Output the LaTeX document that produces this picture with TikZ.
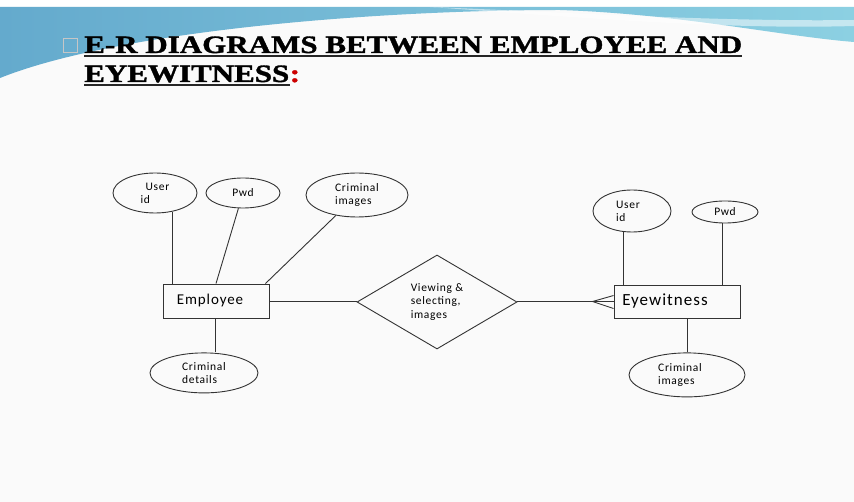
\documentclass[tikz,border=0pt]{standalone}
\usepackage{fontspec}
\setmainfont{Liberation Serif}[BoldFeatures={FakeBold=1.3}]
\newfontfamily\carlito[LetterSpace=6]{Carlito}
\usetikzlibrary{positioning, shapes.geometric}

\begin{document}
\begin{tikzpicture}[x=1pt, y=-1pt,
    every node/.style={inner sep=0pt},
    attr/.style={ellipse, draw=black!80, line width=0.9pt, align=left,
        font=\carlito\fontsize{11.5}{13}\selectfont},
    entity/.style={rectangle, draw=black!80, line width=0.9pt},
    relation/.style={diamond, draw=black!80, line width=0.9pt, align=left,
        minimum width=160pt, minimum height=94pt,
        font=\carlito\fontsize{11.5}{13.5}\selectfont},
    link/.style={draw=black!80, line width=0.9pt},
    heading/.style={font=\bfseries\fontsize{25}{30}\selectfont, xscale=1.24, anchor=base west}
]

% Slide background
\fill[gray!4] (0,0) rectangle (854,502);
\fill[white] (0,0) rectangle (854,7);
\shade[left color={rgb,255:red,100;green,170;blue,205}, right color={rgb,255:red,140;green,208;blue,226}]
    (0,7) -- (854,7) -- (854,42) .. controls (780,36) and (680,14) .. (560,10)
    .. controls (380,10) and (120,30) .. (0,78) -- cycle;
\fill[white, opacity=0.5] (430,7) .. controls (560,12) and (720,22) .. (854,20)
    -- (854,26) .. controls (720,30) and (560,16) .. (430,7) -- cycle;

% Title
\node[draw=gray!45, minimum size=14pt] (bullet) at (70,45) {};
\node[heading] (title1) at (84,53) {E-R DIAGRAMS BETWEEN EMPLOYEE AND};
\node[heading] (title2) at (84,82) {EYEWITNESS};
\node[heading, text=red!80!black] (colon) at (title2.base east) {:};
\draw[line width=2pt, black!85] ([yshift=-3.5pt]title1.base west) -- ([yshift=-3.5pt]title1.base east);
\draw[line width=2pt, black!85] ([yshift=-3.5pt]title2.base west) -- ([yshift=-3.5pt]title2.base east);

% Entities and relationship
\node[entity, minimum width=106pt, minimum height=34pt, font=\carlito\fontsize{15}{16}\selectfont] (emp) at (216,301) {Employee\kern12pt};
\node[relation] (rel) at (437,302) {Viewing \&\\selecting,\\images};
\node[entity, minimum width=126pt, minimum height=33pt, font=\carlito\fontsize{17}{18}\selectfont] (ew) at (677,301.5) {Eyewitness\kern24pt};

% Employee attributes
\node[attr, minimum width=84pt, minimum height=40pt] (uid1) at (155,193) {\kern5pt User\\id\kern14pt};
\node[attr, minimum width=74pt, minimum height=30pt] (pwd1) at (243,193) {Pwd};
\node[attr, minimum width=102pt, minimum height=44pt] (cimg1) at (357,195) {Criminal\\images};
\node[attr, minimum width=108pt, minimum height=40pt, below=34pt of emp, xshift=-12pt] (cdet) {Criminal\\details};

% Eyewitness attributes
\node[attr, minimum width=78pt, minimum height=42pt] (uid2) at (632,211) {User\kern8pt\\id};
\node[attr, minimum width=66pt, minimum height=22pt] (pwd2) at (725,212) {Pwd};
\node[attr, minimum width=116pt, minimum height=44pt, below=34pt of ew, xshift=10pt] (cimg2) {Criminal\kern14pt\\images};

% Connectors
\draw[link] (uid1.-47) -- (uid1.-47 |- emp.north);
\draw[link] (pwd1) -- (emp.north);
\draw[link] (cimg1) -- ([xshift=-4pt]emp.north east);
\draw[link] ([xshift=-1pt]emp.south) -- ([xshift=-1pt]emp.south |- cdet.north);
\draw[link] (emp.east) -- (rel.west |- emp.east);
\draw[link] (rel.east |- ew.west) -- (ew.west);
\draw[link] ([xshift=-9pt]uid2.south) -- ([xshift=-9pt]uid2.south |- ew.north);
\draw[link] ([xshift=-3pt]pwd2.south) -- ([xshift=-3pt]pwd2.south |- ew.north);
\draw[link] (cimg2.north) -- (cimg2.north |- ew.south);

% Crow's foot
\coordinate[left=21pt of ew.west] (fork);
\draw[link] ([yshift=6pt]ew.west) -- (fork) -- ([yshift=-7pt]ew.west);

\end{tikzpicture}
\end{document}
